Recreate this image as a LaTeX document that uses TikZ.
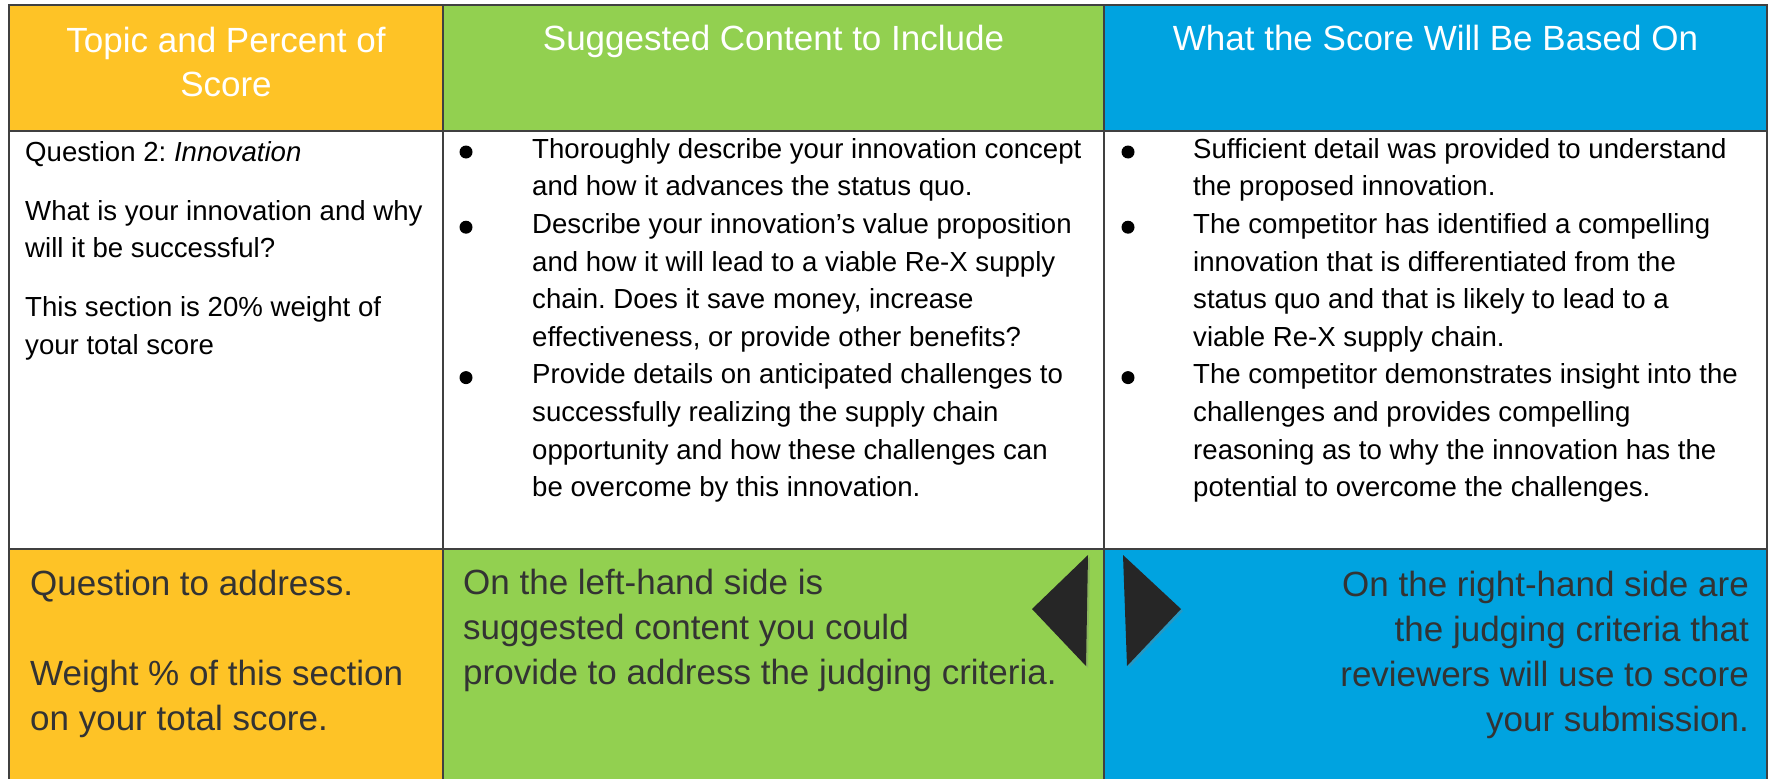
\documentclass[tikz,border=0pt]{standalone}
\usepackage{fontspec}
\setmainfont{Liberation Sans}
\usetikzlibrary{shadows}
\definecolor{orng}{HTML}{FEC326}
\definecolor{grn}{HTML}{92D050}
\definecolor{blu}{HTML}{00A3E0}
\definecolor{rulec}{HTML}{404040}
\definecolor{darktext}{HTML}{333333}
\definecolor{tri}{HTML}{262626}
\newcommand\fstrut[1]{\rule{0pt}{#1}}
\frenchspacing
\begin{document}
\begin{tikzpicture}[x=1pt,y=-1pt,
  cell/.style={draw=rulec, line width=2.5pt, anchor=north west, inner sep=0, outer sep=0},
  hdr/.style={text=white, font=\fontsize{35}{44}\selectfont, inner sep=0, align=center},
  body/.style={text=black, font=\fontsize{27.6}{37.6}\selectfont, inner sep=0, align=left, anchor=north west},
  foot/.style={text=darktext, font=\fontsize{35}{45}\selectfont, inner sep=0},
  bul/.style={circle, fill=black, inner sep=0, minimum size=13pt},
  arrowtri/.style={fill=tri, drop shadow={opacity=0.3, shadow xshift=2pt, shadow yshift=-2pt}},
]
\useasboundingbox (0,0) rectangle (1775,779);
\fill[white] (0,0) rectangle (1775,779);

% header row
\node[cell, fill=orng, minimum width=434pt, minimum height=126pt] (h1) at (9,5) {};
\node[cell, fill=grn,  minimum width=661pt, minimum height=126pt] (h2) at (443,5) {};
\node[cell, fill=blu,  minimum width=663pt, minimum height=126pt] (h3) at (1104,5) {};
% body row
\node[cell, fill=white, minimum width=434pt, minimum height=418pt] (b1) at (9,131) {};
\node[cell, fill=white, minimum width=661pt, minimum height=418pt] (b2) at (443,131) {};
\node[cell, fill=white, minimum width=663pt, minimum height=418pt] (b3) at (1104,131) {};
% bottom row
\node[cell, fill=orng, minimum width=434pt, minimum height=260pt] (f1) at (9,549) {};
\node[cell, fill=grn,  minimum width=661pt, minimum height=260pt] (f2) at (443,549) {};
\node[cell, fill=blu,  minimum width=663pt, minimum height=260pt] (f3) at (1104,549) {};

% header texts
\node[hdr, anchor=north] (t1) at (226,22) {\fstrut{30pt}Topic and Percent of\\Score};
\node[hdr, anchor=base] (t2) at (773.5,50) {Suggested Content to Include};
\node[hdr, anchor=base] (t3) at (1435.5,50) {What the Score Will Be Based On};

% body column 1
\node[body] (q1) at (25,136) {\fstrut{25pt}Question 2: \textit{Innovation}\\[21.4pt]
What is your innovation and why\\
will it be successful?\\[21.4pt]
This section is 20\% weight of\\
your total score};

% body column 2
\node[body] (c2) at (532,133) {\fstrut{25pt}Thoroughly describe your innovation concept\\
and how it advances the status quo.\\
Describe your innovation’s value proposition\\
and how it will lead to a viable Re-X supply\\
chain. Does it save money, increase\\
effectiveness, or provide other benefits?\\
Provide details on anticipated challenges to\\
successfully realizing the supply chain\\
opportunity and how these challenges can\\
be overcome by this innovation.};
\node[bul] (d21) at (466,152) {};
\node[bul] (d22) at (466,227.2) {};
\node[bul] (d23) at (466,377.6) {};

% body column 3
\node[body] (c3) at (1193,133) {\fstrut{25pt}Sufficient detail was provided to understand\\
the proposed innovation.\\
The competitor has identified a compelling\\
innovation that is differentiated from the\\
status quo and that is likely to lead to a\\
viable Re-X supply chain.\\
The competitor demonstrates insight into the\\
challenges and provides compelling\\
reasoning as to why the innovation has the\\
potential to overcome the challenges.};
\node[bul] (d31) at (1128,152) {};
\node[bul] (d32) at (1128,227.2) {};
\node[bul] (d33) at (1128,377.6) {};

% bottom texts
\node[foot, align=left, anchor=north west] (g1) at (30,567) {\fstrut{28pt}Question to address.\\[45pt]
Weight \% of this section\\
on your total score.};
\node[foot, align=left, anchor=north west] (g2) at (463,566) {\fstrut{28pt}On the left-hand side is\\
suggested content you could\\
provide to address the judging criteria.};
\node[foot, align=right, anchor=north east] (g3) at (1749,568) {\fstrut{28pt}On the right-hand side are\\
the judging criteria that\\
reviewers will use to score\\
your submission.};

% triangles
\fill[arrowtri] (1088,555) -- (1032,609) -- (1086,666) -- cycle;
\fill[arrowtri] (1123,555) -- (1181,609) -- (1127,666) -- cycle;
\end{tikzpicture}
\end{document}
